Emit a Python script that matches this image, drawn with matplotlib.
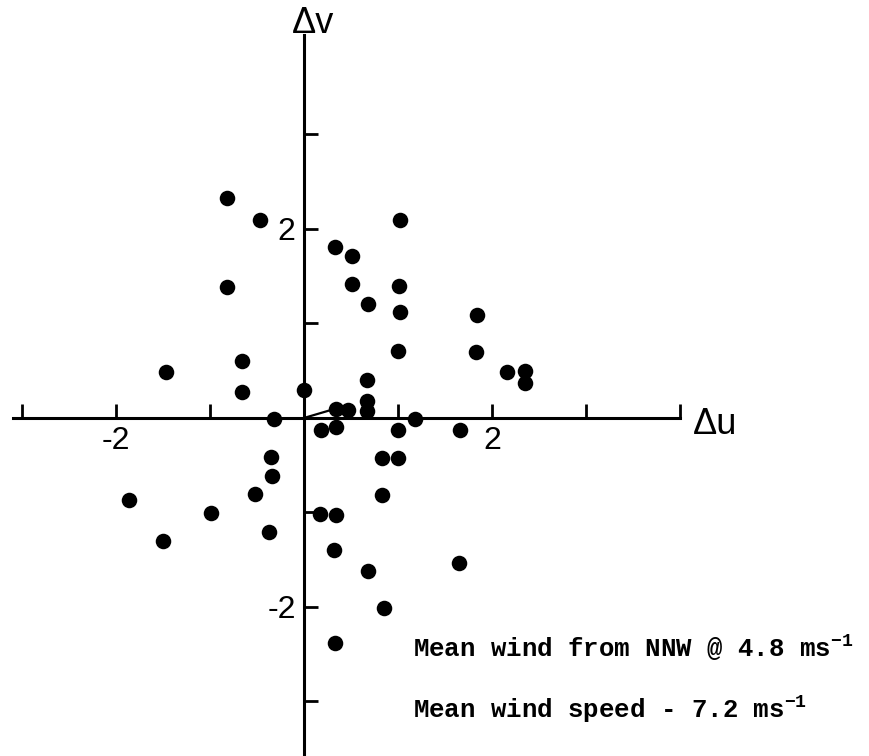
import matplotlib.pyplot as plt

plt.rcParams['axes.unicode_minus'] = False
plt.rcParams['mathtext.fontset'] = 'custom'
plt.rcParams['mathtext.rm'] = 'Liberation Mono:bold'

# wind perturbations (m/s)
du = [-0.82, -0.47, -0.82, -0.66, -1.47, -0.66, 0.00, -0.32,
      1.02, 0.33, 0.51, 0.51, 1.01, 0.68, 1.02, 1.84, 1.00, 1.83,
      2.16, 2.35, 2.35, 0.67, 0.67, 0.67, 0.34, 0.47, 1.18,
      0.18, 0.34, 1.00, 1.66, 0.83, 1.00, 0.83, 0.17, 0.34, 0.32,
      1.65, 0.68, 0.85, 0.33,
      -0.35, -0.34, -0.52, -1.86, -0.99, -1.50, -0.37]
dv = [2.33, 2.10, 1.39, 0.60, 0.49, 0.28, 0.30, -0.01,
      2.10, 1.81, 1.71, 1.42, 1.40, 1.21, 1.12, 1.09, 0.71, 0.70,
      0.49, 0.50, 0.37, 0.40, 0.18, 0.07, 0.10, 0.08, -0.01,
      -0.13, -0.10, -0.13, -0.13, -0.42, -0.42, -0.82, -1.02, -1.03, -1.40,
      -1.53, -1.62, -2.01, -2.38,
      -0.41, -0.61, -0.80, -0.87, -1.01, -1.30, -1.21]

# mean wind vector (short line from the origin)
mean_u = [0, 0.34]
mean_v = [0, 0.10]

xticks = [-3, -2, -1, 1, 2, 3, 4]
yticks = [-3, -2, -1, 1, 2, 3]
labelled = [-2, 2]

fig = plt.figure(figsize=(8.69, 7.56), dpi=100)
ax = fig.add_axes([0, 0, 1, 1])
ax.set_xlim(-3.234, 6.011)
ax.set_ylim(-3.577, 4.423)

ax.scatter(du, dv, s=125, color='black', zorder=3, linewidths=0)
ax.plot(mean_u, mean_v, color='black', lw=1.6)

# axes through the origin
for s in ['top', 'right']:
    ax.spines[s].set_visible(False)
ax.spines['left'].set_position(('data', 0))
ax.spines['bottom'].set_position(('data', 0))
ax.spines['left'].set_bounds(-3.57, 4.05)
ax.spines['bottom'].set_bounds(-3.1, 4.0)
ax.spines['left'].set_linewidth(2.2)
ax.spines['bottom'].set_linewidth(2.2)

lab = lambda t: f'{t:g}' if t in labelled else ''
ax.set_xticks(xticks, [lab(t) for t in xticks])
ax.set_yticks(yticks, [lab(t) for t in yticks])
ax.tick_params(direction='in', length=10, width=2, pad=6,
               labelsize=23, labelfontfamily='Liberation Sans')

ax.text(-0.13, 4.07, 'Δv', fontsize=26, family='Liberation Sans')
ax.text(4.14, -0.17, 'Δu', fontsize=26, family='Liberation Sans')

ax.text(1.16, -2.53, 'Mean wind from NNW @ 4.8 ms$^{-1}$',
        fontsize=18.5, family='Liberation Mono', weight='bold')
ax.text(1.16, -3.17, 'Mean wind speed - 7.2 ms$^{-1}$',
        fontsize=18.5, family='Liberation Mono', weight='bold')

plt.savefig('out.png', dpi=100)
